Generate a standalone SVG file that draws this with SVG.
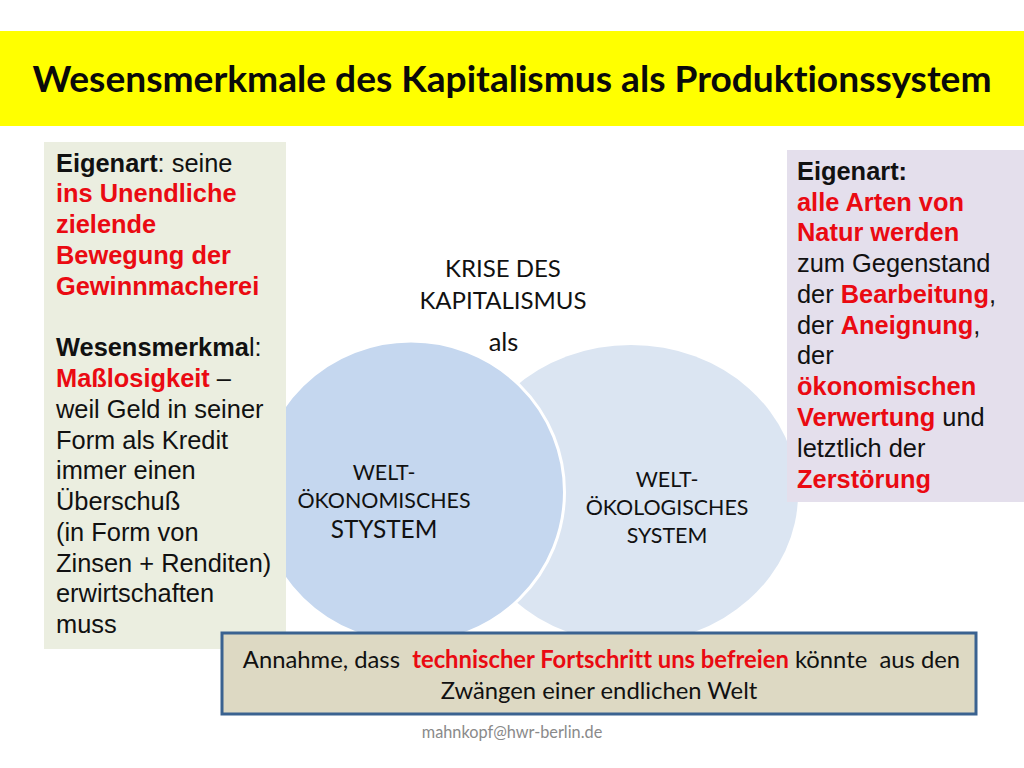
<svg xmlns="http://www.w3.org/2000/svg" width="1024" height="768" viewBox="0 0 1024 768">
<style>
.a{font-family:"Liberation Sans",Arial,sans-serif;font-size:25.4px;fill:#111}
.b{font-weight:bold}
.r{font-weight:bold;fill:#ea0a12}
.n{font-weight:normal;fill:#111}
.c{font-family:Lato,"Open Sans",sans-serif;fill:#111;font-size:24px;text-anchor:middle;font-variant-ligatures:none}
.s{font-size:21.4px}
</style>
<rect width="1024" height="768" fill="#fff"/>
<g id="title"><rect x="0" y="31" width="1024" height="95" fill="#ffff00"/>
<text x="512" y="92" font-family="Lato,'Open Sans',sans-serif" font-weight="bold" font-size="36" fill="#0a0a0a" text-anchor="middle" textLength="959" lengthAdjust="spacingAndGlyphs" style="font-variant-ligatures:none">Wesensmerkmale des Kapitalismus als Produktionssystem</text></g>
<g id="krise"><text class="c" x="503" y="277">KRISE DES</text><text class="c" x="503" y="309">KAPITALISMUS</text><text class="c" x="503.500" y="351" style="font-size:25.5px">als</text></g>
<g id="oekologisch"><ellipse cx="631" cy="494" rx="167" ry="149" fill="#dbe5f2"/>
<text class="c s" x="667" y="487">WELT-</text><text class="c s" x="667" y="515">ÖKOLOGISCHES</text><text class="c s" x="667" y="543">SYSTEM</text></g>
<g id="oekonomisch"><ellipse cx="411" cy="492" rx="153.500" ry="151" fill="#c5d7ef" stroke="#fff" stroke-width="3"/>
<text class="c s" x="384" y="480">WELT-</text><text class="c s" x="384" y="508">ÖKONOMISCHES</text><text class="c" x="384" y="538" style="font-size:24.400px">STYSTEM</text></g>
<g id="eigenart-links"><rect x="44" y="142" width="242" height="507" fill="#ebeee0"/>
<text class="a" x="56" y="172"><tspan class="b">Eigenart</tspan>: seine</text>
<text class="a r" x="56" y="202">ins Unendliche</text>
<text class="a r" x="56" y="233">zielende</text>
<text class="a r" x="56" y="264">Bewegung der</text>
<text class="a r" x="56" y="295">Gewinnmacherei</text>
<text class="a" x="56" y="356"><tspan class="b">Wesensmerkma</tspan>l:</text>
<text class="a r" x="56" y="387">Maßlosigkeit <tspan class="n">–</tspan></text>
<text class="a" x="56" y="418">weil Geld in seiner</text>
<text class="a" x="56" y="449">Form als Kredit</text>
<text class="a" x="56" y="479">immer einen</text>
<text class="a" x="56" y="510">Überschuß</text>
<text class="a" x="56" y="541">(in Form von</text>
<text class="a" x="56" y="572">Zinsen + Renditen)</text>
<text class="a" x="56" y="602">erwirtschaften</text>
<text class="a" x="56" y="633">muss</text></g>
<g id="eigenart-rechts"><rect x="787" y="150" width="237" height="352" fill="#e4dfec"/>
<text class="a b" x="797" y="180">Eigenart:</text>
<text class="a r" x="797" y="211">alle Arten von</text>
<text class="a r" x="797" y="241">Natur werden</text>
<text class="a" x="797" y="272">zum Gegenstand</text>
<text class="a" x="797" y="303">der <tspan class="r">Bearbeitung</tspan>,</text>
<text class="a" x="797" y="334">der <tspan class="r">Aneignung</tspan>,</text>
<text class="a" x="797" y="364">der</text>
<text class="a r" x="797" y="395">ökonomischen</text>
<text class="a" x="797" y="426"><tspan class="r">Verwertung</tspan> und</text>
<text class="a" x="797" y="457">letztlich der</text>
<text class="a r" x="797" y="488">Zerstörung</text></g>
<g id="annahme"><rect x="222" y="633" width="754" height="81" fill="#ddd9c3" stroke="#3a6290" stroke-width="3"/>
<text class="c" x="601.500" y="668" xml:space="preserve" style="font-size:23.8px">Annahme, dass  <tspan font-weight="bold" fill="#ea0a12">technischer Fortschritt uns befreien</tspan> könnte  aus den</text>
<text class="c" x="599" y="699" style="font-size:23.8px">Zwängen einer endlichen Welt</text></g>
<g id="footer"><text x="512" y="738" font-family="Lato,sans-serif" font-size="16.300" fill="#8a8a8a" text-anchor="middle">mahnkopf@hwr-berlin.de</text></g>
</svg>
